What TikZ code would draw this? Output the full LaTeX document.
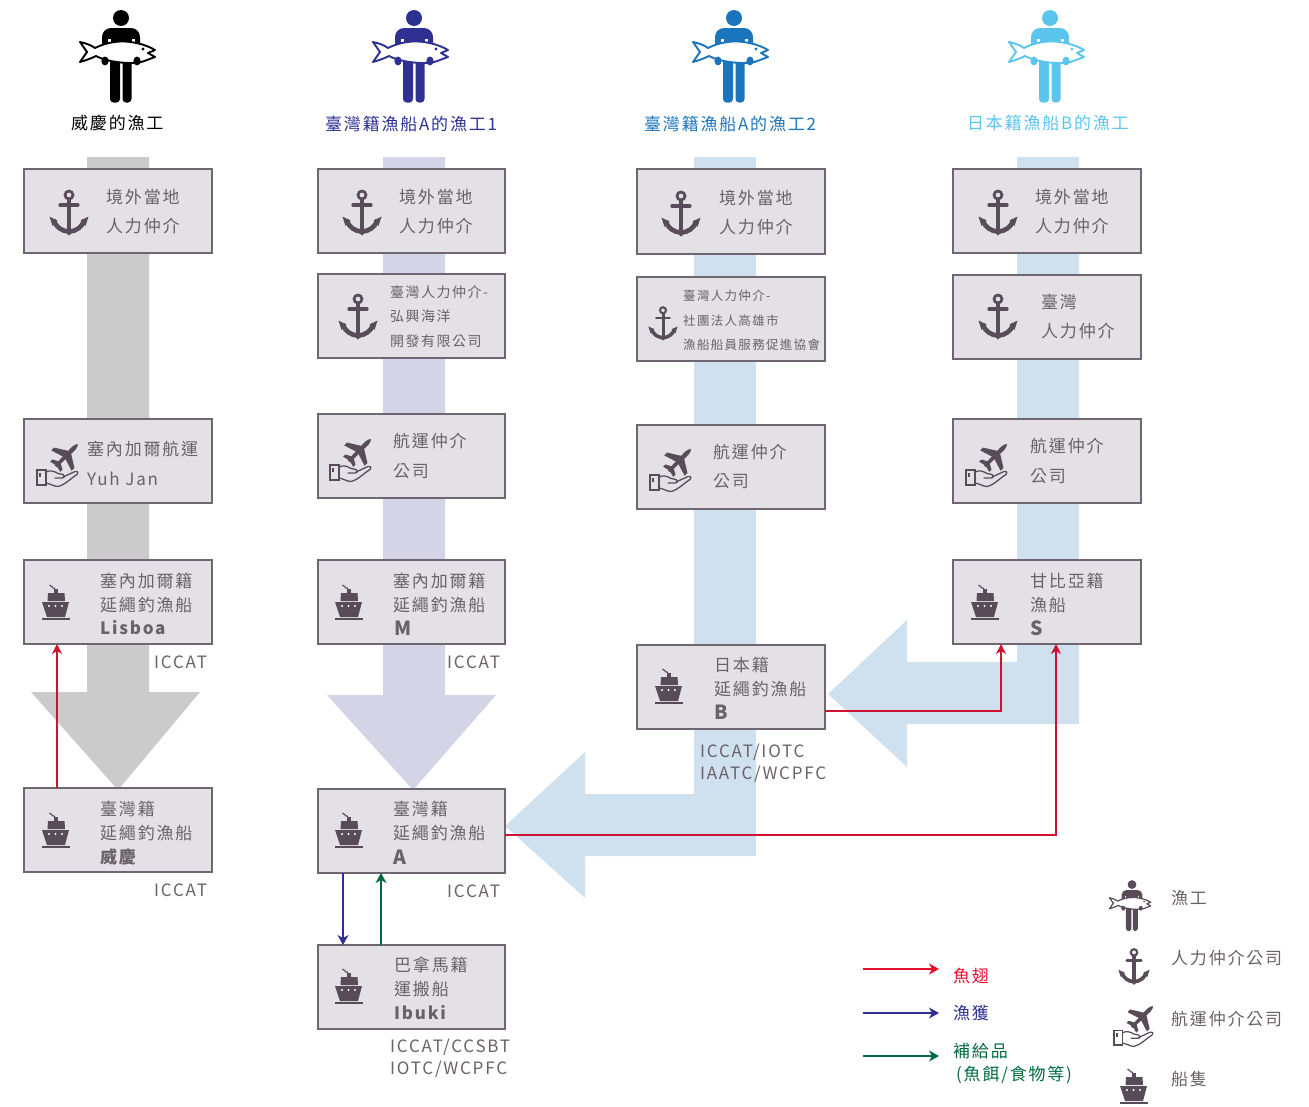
\documentclass[tikz,border=0pt]{standalone}
\usepackage{fontspec}
\setmainfont{Noto Sans CJK TC}[LetterSpace=10.5]
\usetikzlibrary{arrows.meta}
\definecolor{txt}{HTML}{6A6169}
\definecolor{ic}{HTML}{574C58}
\definecolor{boxf}{HTML}{E3E1E6}
\definecolor{boxd}{HTML}{6F6672}
\definecolor{bgray}{HTML}{CBCBCB}
\definecolor{bpurple}{HTML}{D3D4E6}
\definecolor{bblue}{HTML}{CFE1EF}
\definecolor{cred}{HTML}{CF1230}
\definecolor{clred}{HTML}{E60F2D}
\definecolor{cnavy}{HTML}{2E3192}
\definecolor{cgreen}{HTML}{006B3F}
\definecolor{chb}{HTML}{1B75BC}
\definecolor{chc}{HTML}{5BC5EE}
\tikzset{
  boxs/.style={draw=boxd,fill=boxf,line width=1.2pt,inner sep=0pt,outer sep=0pt},
  lbl/.style={anchor=west,inner sep=0pt,text=txt,font=\fontsize{#1}{#1}\selectfont,
    execute at begin node={\rule[-.12em]{0pt}{1em}}},
  lbl/.default=17,
  arr/.style={line width=1.2pt,-{Stealth[length=10pt,width=11pt,inset=3pt]}},
  arrthin/.style={line width=1.05pt,-{Stealth[length=10pt,width=10pt,inset=3pt]}},
  bandgray/.style={fill=bgray,draw=none},
  bandpur/.style={fill=bpurple,draw=none},
  bandblue/.style={fill=bblue,draw=none},
}
% icons
\newcommand{\fisher}[4]{\begin{scope}[shift={(#1,#2)},scale=#3]
  \fill[#4] (0,-39) circle (8);
  \fill[#4,rounded corners={9pt*#3}] (-19,4) -- (-19,-29) -- (19,-29) -- (19,4) -- cycle;
  \fill[white] (-13.5,-18) rectangle (-10.5,-14);
  \fill[white] (10.5,-18) rectangle (13.5,-14);
  \fill[#4,rounded corners={3.5pt*#3}] (-11,-2) rectangle (-1,45.5);
  \fill[#4,rounded corners={3.5pt*#3}] (1.5,-2) rectangle (10.5,45.5);
  \draw[#4,fill=white,line width={1.5pt*#3+.4pt},line join=round] (-41,-15) -- (-34,-5) -- (-41,5)
    .. controls (-34,3) and (-29,1) .. (-25,-1)
    .. controls (-14,5) and (10,8) .. (22,4.5)
    -- (34,0) -- (27,-4) -- (34,-7)
    .. controls (24,-13) and (10,-16) .. (-1,-15.5)
    .. controls (-10,-15) and (-18,-13) .. (-26,-9) .. controls (-30,-12) and (-36,-14) .. (-41,-15) -- cycle;
  \fill[#4] (22,-8) circle (1.7);
  \fill[#4] (-16,4) ellipse (3.6 and 4.4);
  \fill[#4] (16,4) ellipse (3.6 and 4.4);
\end{scope}}
\newcommand{\anchoric}[3]{\begin{scope}[shift={(#1,#2)},scale=#3]
  \draw[ic,line width={2.7pt*#3}] (0,-17) circle (4);
  \fill[ic] (-2,-13) rectangle (2,20);
  \draw[ic,line width={3.3pt*#3},line cap=round] (-9,-7) -- (9,-7);
  \draw[ic,line width={4.6pt*#3}] (-15.5,8) .. controls (-13,15) and (-7,19.5) .. (0,19.5) .. controls (7,19.5) and (13,15) .. (15.5,8);
  \fill[ic] (-19.5,4.5) -- (-11.5,8.5) -- (-16.5,14) -- cycle;
  \fill[ic] (19.5,4.5) -- (11.5,8.5) -- (16.5,14) -- cycle;
  \fill[ic] (-4,20) -- (0,23.5) -- (4,20) -- cycle;
\end{scope}}
\newcommand{\planeic}[3]{\begin{scope}[shift={(#1,#2)},scale=#3]
  \begin{scope}[shift={(8.5,-9.5)},rotate=45,scale=.8]
    \fill[ic,line join=round] (-19,-2) -- (13,-2.8) .. controls (17,-2.6) and (20,-1) .. (20,0)
      .. controls (20,1) and (17,2.6) .. (13,2.8) -- (-19,2) -- cycle;
    \fill[ic] (6,-2) -- (-4,-18) -- (-9,-18) -- (-4,-2) -- cycle;
    \fill[ic] (6,2) -- (-4,18) -- (-9,18) -- (-4,2) -- cycle;
    \fill[ic] (-12,-1.5) -- (-16,-9) -- (-20,-9) -- (-18,-1.5) -- cycle;
    \fill[ic] (-12,1.5) -- (-16,9) -- (-20,9) -- (-18,1.5) -- cycle;
  \end{scope}
  \draw[ic,line width={1.3pt*#3}] (-21,5) rectangle (-12,20);
  \fill[ic] (-19,7.5) rectangle (-17,12);
  \draw[ic,line width={1.3pt*#3},line join=round,line cap=round] (-12,7) .. controls (-8,5) and (-4,6) .. (0,8.5)
    -- (5,9.5) .. controls (7,10) and (7,13) .. (4,13) -- (-3,13)
    (5,12) -- (17,6.5) .. controls (20,6) and (21,8) .. (19,9.5)
    .. controls (13,13) and (7,20) .. (0,21.5) .. controls (-4,21.5) and (-8,18.5) .. (-12,18);
\end{scope}}
\newcommand{\shipic}[3]{\begin{scope}[shift={(#1,#2)},scale=#3]
  \draw[ic,line width={1.2pt*#3}] (-6.5,-16) .. controls (-4,-16) and (-5,-13) .. (-1,-12.5);
  \fill[ic] (-2.5,-12) rectangle (1.5,-8);
  \fill[ic] (-8,-8) -- (8.5,-8) -- (9,0) -- (-8.5,0) -- cycle;
  \fill[ic] (-14,1) -- (13,1) -- (9,16) -- (-9,16) -- cycle;
  \fill[white] (-7,5) circle (1.1) (-.5,5) circle (1.1) (6,5) circle (1.1);
  \fill[ic] (-14.5,17.4) rectangle (13.5,18.8);
\end{scope}}
\newcommand{\boxn}[5]{\node[boxs,minimum width={(#4-#2)*1pt},minimum height={(#5-#3)*1pt}] (#1) at ({(#2+#4)/2},{(#3+#5)/2}) {};}
\begin{document}
\begin{tikzpicture}[x=1pt,y=-1pt]
\useasboundingbox (0,0) rectangle (1309,1106);
% bands
\fill[bandgray] (87,157) -- (149,157) -- (149,692) -- (200,692) -- (118,790) -- (31,692) -- (87,692) -- cycle;
\fill[bandpur] (383,157) -- (445,157) -- (445,695) -- (496,695) -- (413,790) -- (327,695) -- (383,695) -- cycle;
\fill[bandblue] (694,157) -- (756,157) -- (756,856) -- (585,856) -- (585,898) -- (505,826) -- (585,752) -- (585,794) -- (694,794) -- cycle;
\fill[bandblue] (1017,157) -- (1079,157) -- (1079,724) -- (907,724) -- (907,767) -- (828,694) -- (907,620) -- (907,662) -- (1017,662) -- cycle;
% boxes
\boxn{a1}{24}{169}{212}{253}
\boxn{a2}{24}{419}{212}{503}
\boxn{a3}{24}{560}{212}{644}
\boxn{a4}{24}{788}{212}{872}
\boxn{b1}{318}{169}{505}{253}
\boxn{b2}{318}{274}{505}{358}
\boxn{b3}{318}{414}{505}{498}
\boxn{b4}{318}{560}{505}{644}
\boxn{b5}{318}{789}{505}{873}
\boxn{b6}{318}{945}{505}{1029}
\boxn{c1}{637}{169}{825}{254}
\boxn{c2}{637}{277}{825}{361}
\boxn{c3}{637}{425}{825}{509}
\boxn{c4}{637}{645}{825}{729}
\boxn{d1}{953}{169}{1141}{253}
\boxn{d2}{953}{275}{1141}{359}
\boxn{d3}{953}{419}{1141}{503}
\boxn{d4}{953}{560}{1141}{644}
% headers
\node[lbl,text=black] (h1) at (71,123) {威慶的漁工};
\node[lbl,text=cnavy] (h2) at (325,124) {臺灣籍漁船A的漁工1};
\node[lbl,text=chb] (h3) at (644,124) {臺灣籍漁船A的漁工2};
\node[lbl,text=chc] (h4) at (967,123) {日本籍漁船B的漁工};
% col 1
\node[lbl] (ta1a) at (106,197) {境外當地};
\node[lbl] (ta1b) at (106,226) {人力仲介};
\node[lbl] (ta2a) at (87,449) {塞內加爾航運};
\node[lbl] (ta2b) at (87,479) {Yuh Jan};
\node[lbl] (ta3a) at (100,581) {塞內加爾籍};
\node[lbl] (ta3b) at (100,605) {延繩釣漁船};
\node[lbl] (ta3c) at (100,628) {\bfseries Lisboa};
\node[lbl] (ta3d) at (154,662) {ICCAT};
\node[lbl] (ta4a) at (100,809) {臺灣籍};
\node[lbl] (ta4b) at (100,833) {延繩釣漁船};
\node[lbl] (ta4c) at (100,857) {\bfseries 威慶};
\node[lbl] (ta4d) at (154,890) {ICCAT};
% col 2
\node[lbl] (tb1a) at (399,197) {境外當地};
\node[lbl] (tb1b) at (399,226) {人力仲介};
\node[lbl=14] (tb2a) at (390,292) {臺灣人力仲介-};
\node[lbl=14] (tb2b) at (390,316) {弘興海洋};
\node[lbl=14] (tb2c) at (390,341) {開發有限公司};
\node[lbl] (tb3a) at (393,441) {航運仲介};
\node[lbl] (tb3b) at (393,471) {公司};
\node[lbl] (tb4a) at (393,581) {塞內加爾籍};
\node[lbl] (tb4b) at (393,605) {延繩釣漁船};
\node[lbl=19.5] (tb4c) at (394,628) {\bfseries M};
\node[lbl] (tb4d) at (447,662) {ICCAT};
\node[lbl] (tb5a) at (393,809) {臺灣籍};
\node[lbl] (tb5b) at (393,833) {延繩釣漁船};
\node[lbl=19.5] (tb5c) at (393,857) {\bfseries A};
\node[lbl] (tb5d) at (447,891) {ICCAT};
\node[lbl] (tb6a) at (394,965) {巴拿馬籍};
\node[lbl] (tb6b) at (394,989) {運搬船};
\node[lbl] (tb6c) at (394,1013) {\bfseries Ibuki};
\node[lbl] (tb6d) at (390,1047) {ICCAT/CCSBT};
\node[lbl] (tb6e) at (390,1069) {IOTC/WCPFC};
% col 3
\node[lbl] (tc1a) at (719,198) {境外當地};
\node[lbl] (tc1b) at (719,227) {人力仲介};
\node[lbl=12.5] (tc2a) at (683,296) {臺灣人力仲介-};
\node[lbl=12.5] (tc2b) at (683,321) {社團法人高雄市};
\node[lbl=12.5] (tc2c) at (683,345) {漁船船員服務促進協會};
\node[lbl] (tc3a) at (713,452) {航運仲介};
\node[lbl] (tc3b) at (713,481) {公司};
\node[lbl] (tc4a) at (714,665) {日本籍};
\node[lbl] (tc4b) at (714,689) {延繩釣漁船};
\node[lbl=19.5] (tc4c) at (714,712) {\bfseries B};
\node[lbl] (tc4d) at (700,752) {ICCAT/IOTC};
\node[lbl] (tc4e) at (700,774) {IAATC/WCPFC};
% col 4
\node[lbl] (td1a) at (1035,197) {境外當地};
\node[lbl] (td1b) at (1035,226) {人力仲介};
\node[lbl] (td2a) at (1041,302) {臺灣};
\node[lbl] (td2b) at (1041,331) {人力仲介};
\node[lbl] (td3a) at (1030,446) {航運仲介};
\node[lbl] (td3b) at (1030,476) {公司};
\node[lbl] (td4a) at (1030,581) {甘比亞籍};
\node[lbl] (td4b) at (1030,605) {漁船};
\node[lbl=19.5] (td4c) at (1030,628) {\bfseries S};
% legend text
\node[lbl,text=clred] (l1) at (953,976) {魚翅};
\node[lbl,text=cnavy] (l2) at (953,1013) {漁獲};
\node[lbl,text=cgreen] (l3) at (953,1051) {補給品};
\node[lbl,text=cgreen] (l3b) at (956,1075) {(魚餌/食物等)};
\node[lbl] (r1) at (1171,898) {漁工};
\node[lbl] (r2) at (1171,958) {人力仲介公司};
\node[lbl] (r3) at (1171,1019) {航運仲介公司};
\node[lbl] (r4) at (1171,1079) {船隻};
% connectors
\draw[arrthin,draw=cred] (57,0 |- a4.north) -- (57,0 |- a3.south);
\draw[arrthin,draw=cred] (c4.east |- 0,711) -| (1001,0 |- d4.south);
\draw[arrthin,draw=cred] (b5.east |- 0,835) -| (1056,0 |- d4.south);
\draw[arr,draw=cnavy] (343,0 |- b5.south) -- (343,0 |- b6.north);
\draw[arr,draw=cgreen] (381,0 |- b6.north) -- (381,0 |- b5.south);
\coordinate (k1a) at (863,969); \coordinate (k1b) at (939,969);
\coordinate (k2a) at (863,1013); \coordinate (k2b) at (939,1013);
\coordinate (k3a) at (863,1056); \coordinate (k3b) at (939,1056);
\draw[arr,draw=clred] (k1a) -- (k1b);
\draw[arr,draw=cnavy] (k2a) -- (k2b);
\draw[arr,draw=cgreen] (k3a) -- (k3b);
% icons
\fisher{121}{57}{1}{black}
\fisher{414}{57}{1}{cnavy}
\fisher{734}{57}{1}{chb}
\fisher{1050}{57}{1}{chc}
\fisher{1132}{906}{.55}{ic}
\anchoric{69}{212}{1}
\anchoric{362}{212}{1}
\anchoric{681}{213}{1}
\anchoric{998}{212}{1}
\anchoric{358}{316}{1}
\anchoric{663}{323}{.75}
\anchoric{998}{316}{1}
\anchoric{1134}{966}{.8}
\planeic{58}{465}{1}
\planeic{351}{460}{1}
\planeic{671}{470}{1}
\planeic{987}{465}{1}
\planeic{1134}{1026}{.95}
\shipic{56}{601}{1}
\shipic{349}{601}{1}
\shipic{669}{685}{1}
\shipic{985}{601}{1}
\shipic{56}{829}{1}
\shipic{349}{829}{1}
\shipic{349}{985}{1}
\shipic{1134}{1085}{1}
\end{tikzpicture}
\end{document}
